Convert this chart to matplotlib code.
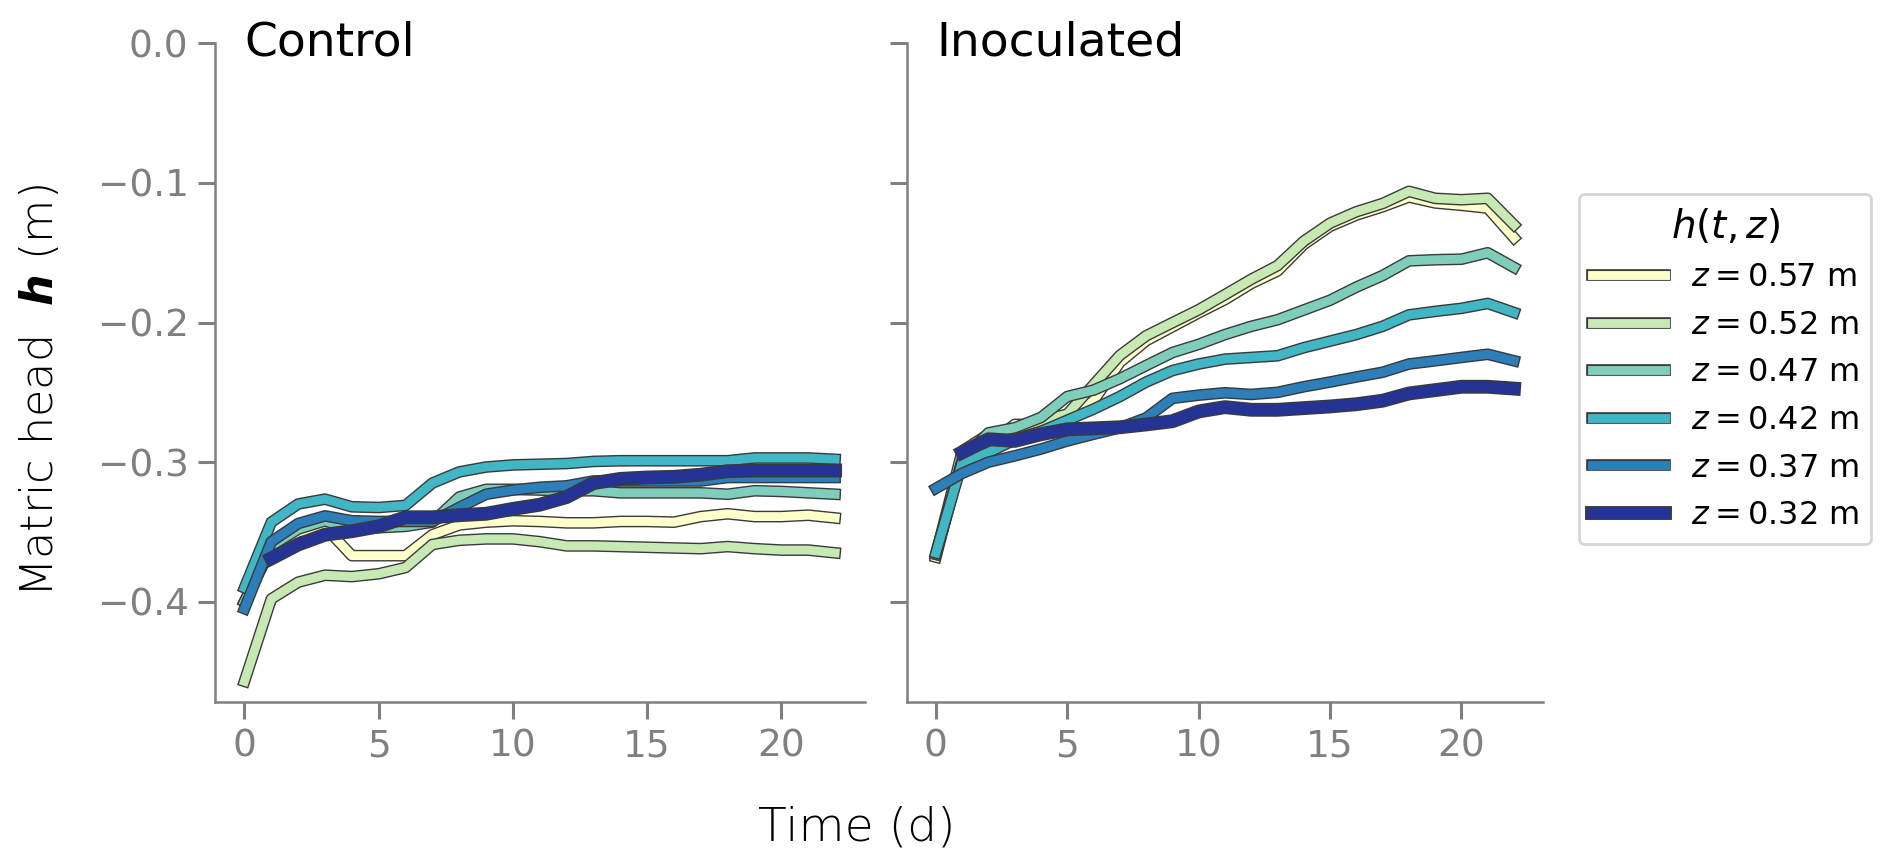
import numpy as np
import matplotlib
matplotlib.use("Agg")
import matplotlib.pyplot as plt
import matplotlib.patheffects as pe

plt.rcParams['font.family'] = ['DejaVu Sans']
plt.rcParams['mathtext.fontset'] = 'dejavusans'

days = list(range(23))
depths = [0.57, 0.52, 0.47, 0.42, 0.37, 0.32]
colors = ['#ffffcc', '#c7e9b4', '#7fcdbb', '#41b6c4', '#2c7fb8', '#253494']
nan = np.nan

# control columns, one list per depth
control_057 = [-0.400, -0.362, -0.350, -0.3465, -0.367, -0.367, -0.367, -0.352, -0.345, -0.343,
               -0.342, -0.3425, -0.3435, -0.3435, -0.3425, -0.3425, -0.343, -0.339, -0.337,
               -0.339, -0.339, -0.338, -0.340]
control_052 = [-0.457, -0.398, -0.386, -0.381, -0.382, -0.380, -0.3755, -0.359, -0.356, -0.355,
               -0.355, -0.357, -0.360, -0.360, -0.3605, -0.361, -0.3615, -0.362, -0.3605,
               -0.362, -0.363, -0.363, -0.365]
control_047 = [-0.400, -0.360, -0.348, -0.342, -0.348, -0.347, -0.346, -0.343, -0.325, -0.3195,
               -0.3195, -0.320, -0.3205, -0.3205, -0.322, -0.322, -0.322, -0.322, -0.323,
               -0.3205, -0.321, -0.322, -0.323]
control_042 = [-0.390, -0.343, -0.330, -0.3265, -0.332, -0.3325, -0.331, -0.315, -0.307, -0.3035,
               -0.302, -0.3015, -0.301, -0.2995, -0.299, -0.299, -0.299, -0.299, -0.299,
               -0.297, -0.297, -0.297, -0.298]
control_037 = [-0.405, -0.357, -0.344, -0.3385, -0.342, -0.3425, -0.3425, -0.3425, -0.3325, -0.323,
               -0.320, -0.318, -0.317, -0.3135, -0.3135, -0.3135, -0.3135, -0.3135, -0.311,
               -0.311, -0.311, -0.311, -0.311]
control_032 = [nan, -0.369, -0.359, -0.352, -0.3495, -0.346, -0.3395, -0.3395, -0.338, -0.337,
               -0.3335, -0.3305, -0.325, -0.315, -0.312, -0.311, -0.3105, -0.309, -0.3065,
               -0.306, -0.306, -0.306, -0.306]

# inoculated columns
inoc_057 = [-0.368, -0.295, -0.287, -0.273, -0.273, -0.268, -0.256, -0.2285, -0.213, -0.203,
            -0.193, -0.1835, -0.172, -0.163, -0.144, -0.131, -0.123, -0.117, -0.110,
            -0.1143, -0.116, -0.118, -0.1393]
inoc_052 = [-0.366, -0.292, -0.280, -0.276, -0.2703, -0.2656, -0.2445, -0.2235, -0.2095, -0.2001,
            -0.1908, -0.180, -0.169, -0.1592, -0.1417, -0.1288, -0.1206, -0.1147, -0.106,
            -0.111, -0.112, -0.111, -0.130]
inoc_047 = [-0.366, -0.298, -0.279, -0.2754, -0.268, -0.253, -0.2484, -0.2402, -0.2308, -0.2215,
            -0.2156, -0.2086, -0.2027, -0.198, -0.191, -0.184, -0.1746, -0.1663, -0.1558,
            -0.155, -0.1546, -0.150, -0.1605]
inoc_042 = [-0.365, -0.300, -0.293, -0.284, -0.278, -0.270, -0.262, -0.253, -0.2426, -0.2344,
            -0.2297, -0.2262, -0.225, -0.2238, -0.218, -0.2133, -0.2086, -0.2027, -0.1945,
            -0.192, -0.1898, -0.1863, -0.1928]
inoc_037 = [-0.3188, -0.308, -0.300, -0.2955, -0.2906, -0.2848, -0.280, -0.2754, -0.2683, -0.2543,
            -0.252, -0.2503, -0.2515, -0.250, -0.246, -0.2426, -0.239, -0.2356, -0.2297,
            -0.2274, -0.225, -0.2227, -0.2274]
inoc_032 = [nan, -0.293, -0.2836, -0.2848, -0.280, -0.2765, -0.2758, -0.275, -0.273, -0.2707,
            -0.2637, -0.2606, -0.2625, -0.2625, -0.2613, -0.2601, -0.2585, -0.256, -0.2508,
            -0.2484, -0.246, -0.246, -0.2473]

control = [control_057, control_052, control_047, control_042, control_037, control_032]
inoculated = [inoc_057, inoc_052, inoc_047, inoc_042, inoc_037, inoc_032]
widths = [3.2, 3.2, 3.2, 3.2, 3.2, 4.0]

grey = '#808080'
fig = plt.figure(figsize=(9.46, 4.34), dpi=200)
ax1 = fig.add_axes([0.1136, 0.191, 0.3434, 0.759])
ax2 = fig.add_axes([0.4794, 0.191, 0.3361, 0.759], sharey=ax1)

for ax, data, title in [(ax1, control, 'Control'), (ax2, inoculated, 'Inoculated')]:
    for vals, z, c, lw in zip(data, depths, colors, widths):
        ax.plot(days, vals, color=c, lw=lw, label=f'$z = {z:.2f}$ m',
                path_effects=[pe.Stroke(linewidth=lw + 1.0, foreground='#3a3a3a'), pe.Normal()])
    ax.text(0, 0, title, fontsize=17, ha='left', va='center')
    for s in ['top', 'right']:
        ax.spines[s].set_visible(False)
    for s in ['left', 'bottom']:
        ax.spines[s].set_color(grey)
        ax.spines[s].set_linewidth(0.9)
    ax.tick_params(colors=grey, labelsize=13.5, length=6, width=1.1, labelcolor=grey)
    ax.set_xticks([0, 5, 10, 15, 20])
    ax.set_xlim(-1.1, 23.1)

ax1.set_ylim(-0.472, 0.0)
ax1.set_yticks([0.0, -0.1, -0.2, -0.3, -0.4])
ax1.set_yticklabels(['0.0', '\u22120.1', '\u22120.2', '\u22120.3', '\u22120.4'])
plt.setp(ax2.get_yticklabels(), visible=False)

fig.text(0.453, 0.047, 'Time (d)', fontsize=17, ha='center', va='center', fontweight='light')
fig.text(0.021, 0.55, r'Matric head  $\boldsymbol{h}$ (m)', fontsize=16, rotation=90,
         ha='center', va='center', fontweight='light')

handles, labels = ax2.get_legend_handles_labels()
leg = fig.legend(handles, labels, title='$h(t, z)$', loc='center left',
                 bbox_to_anchor=(0.826, 0.575), fontsize=11.5, title_fontsize=14,
                 handlelength=2.3, frameon=True, edgecolor='#cccccc', labelspacing=0.52)

fig.savefig('out.png', dpi=200)
